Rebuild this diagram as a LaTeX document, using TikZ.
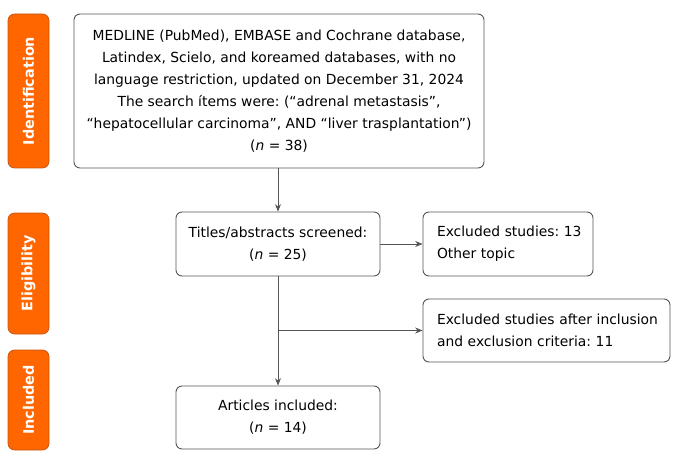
\documentclass[tikz,border=0pt]{standalone}
\usepackage{fontspec}
\setmainfont{DejaVu Sans}
\usetikzlibrary{arrows.meta}
\frenchspacing

\definecolor{taborange}{HTML}{FF6600}
\definecolor{tabedge}{HTML}{C95510}
\definecolor{boxedge}{HTML}{555555}

\tikzset{
    flowbox/.style={draw=boxedge, line width=0.7pt, rounded corners=4.5pt, inner sep=0pt, align=center, font=\fontsize{10.4pt}{16.5pt}\selectfont},
    sidebox/.style={flowbox, align=left, inner xsep=10.5pt},
    sidetab/.style={fill=taborange, draw=tabedge, line width=0.6pt, rounded corners=5pt, rotate=90, text=white, inner sep=0pt, minimum height=30.75pt, font=\bfseries\fontsize{10.8pt}{12pt}\selectfont},
    flowarrow/.style={-{Stealth[length=5.5pt,width=4.5pt]}, draw=boxedge, line width=0.65pt}
}

\begin{document}
\begin{tikzpicture}[x=0.75pt,y=-0.75pt]
    \useasboundingbox (0,0) rectangle (679,460);

    % phase tabs
    \node[sidetab, minimum width=115.5pt] (identtab) at (28.5,91) {Identification};
    \node[sidetab, minimum width=90.75pt] (eligtab) at (28.5,273.5) {Eligibility};
    \node[sidetab, minimum width=75pt] (incltab) at (28.5,400) {Included};

    % boxes
    \node[flowbox, minimum width=307.5pt, minimum height=115.5pt] (search) at (279,91)
        {MEDLINE (PubMed), EMBASE and Cochrane database,\\
         Latindex, Scielo, and koreamed databases, with no\\
         language restriction, updated on December 31, 2024\\
         The search ítems were: (“adrenal metastasis”,\\
         “hepatocellular carcinoma”, AND “liver trasplantation”)\\
         (\textit{n} = 38)};
    \node[flowbox, minimum width=153pt, minimum height=48pt] (screened) at (278,244)
        {Titles/abstracts screened:\\(\textit{n} = 25)};
    \node[sidebox, minimum width=127.5pt, minimum height=48pt, text width=106.5pt] (exclone) at (508,244)
        {\mbox{Excluded studies: 13}\\Other topic};
    \node[sidebox, minimum width=185.25pt, minimum height=47.25pt, text width=164.25pt] (excltwo) at (546.5,330.5)
        {\mbox{Excluded studies after inclusion}\\and exclusion criteria: 11};
    \node[flowbox, minimum width=153pt, minimum height=47.25pt] (included) at (278,417.5)
        {Articles included:\\(\textit{n} = 14)};

    % connectors
    \coordinate (branch) at (screened.south |- excltwo.west);
    \draw[flowarrow] (search.south -| screened.south) -- (screened.north);
    \draw[flowarrow] (screened.east) -- (exclone.west);
    \draw[flowarrow] (screened.south) -- (included.north);
    \draw[flowarrow] (branch) -- (excltwo.west);
\end{tikzpicture}
\end{document}
